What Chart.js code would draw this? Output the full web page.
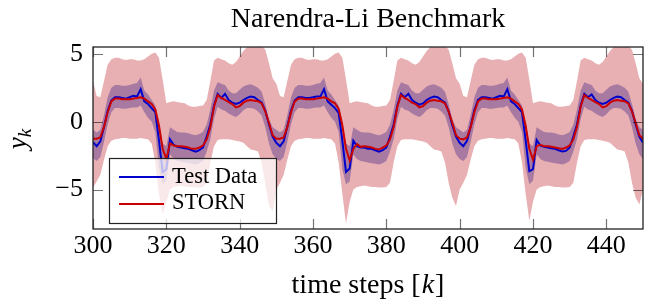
<!DOCTYPE html>
<html><head><meta charset="utf-8">
<script src="https://cdn.jsdelivr.net/npm/chart.js@4.4.0/dist/chart.umd.min.js"></script>
<style>html,body{margin:0;padding:0;background:#fff}canvas{display:block}</style>
</head><body>
<canvas id="c" width="654" height="304"></canvas>
<script>
// ---- data ----
const steps = Array.from({length: 151}, (_, i) => 300 + i);
const xTicks = [300, 320, 340, 360, 380, 400, 420, 440];
const yTicks = [-5, 0, 5];

const testData = [
 -1.5,-1.8,-1.45,-0.4,0.8,1.55,1.8,1.8,1.75,1.7,1.8,1.9,1.85,2.4,1.5,1.3,1.0,0.7,-1.4,-3.7,-3.5,-1.3,-1.7,-1.85,-1.9,-1.95,-2.0,-2.1,-2.2,-2.1,-1.9,-1.1,-0.2,1.2,2.05,1.75,2.05,1.6,1.4,1.3,1.4,1.6,1.75,1.85,1.8,1.6,1.4,0.8,-0.2,-1.1,
 -1.55,-1.8,-1.45,-0.35,0.8,1.55,1.8,1.8,1.75,1.75,1.8,1.85,1.85,2.4,1.5,1.25,1.0,0.65,-1.4,-3.7,-3.45,-1.4,-1.8,-1.9,-1.9,-2.0,-2.0,-2.1,-2.2,-2.1,-1.9,-1.1,-0.2,1.2,2.05,1.8,2.05,1.6,1.4,1.25,1.35,1.6,1.75,1.85,1.8,1.6,1.4,0.75,-0.25,-1.1,
 -1.55,-1.8,-1.4,-0.35,0.85,1.6,1.8,1.8,1.75,1.7,1.8,1.9,1.85,2.4,1.5,1.3,1.0,0.7,-1.4,-3.65,-3.5,-1.35,-1.75,-1.85,-1.9,-1.95,-2.0,-2.1,-2.2,-2.15,-1.9,-1.1,-0.2,1.2,2.05,1.8,2.0,1.6,1.4,1.3,1.4,1.6,1.75,1.85,1.8,1.6,1.4,0.8,-0.2,-1.1,
 -1.55];

const stornMean = [
 -1.25,-1.25,-1.15,-0.4,0.7,1.5,1.7,1.7,1.65,1.65,1.65,1.7,1.75,1.8,1.7,1.5,1.3,0.9,-0.3,-2.0,-2.75,-1.6,-1.75,-1.8,-1.8,-1.85,-1.9,-2.0,-2.0,-1.9,-1.75,-1.3,-0.4,1.1,1.95,1.75,1.6,1.45,1.3,1.05,1.15,1.4,1.55,1.6,1.55,1.5,1.35,0.75,-0.1,-1.0,
 -1.25,-1.25,-1.15,-0.4,0.7,1.5,1.7,1.7,1.65,1.65,1.65,1.7,1.75,1.8,1.7,1.5,1.35,0.95,-0.25,-2.0,-2.85,-2.0,-1.65,-1.85,-1.8,-1.85,-1.9,-2.0,-2.05,-1.9,-1.75,-1.3,-0.4,1.1,1.95,1.75,1.6,1.4,1.3,1.05,1.15,1.4,1.55,1.6,1.55,1.5,1.35,0.75,-0.1,-1.0,
 -1.25,-1.3,-1.15,-0.4,0.7,1.5,1.7,1.7,1.65,1.65,1.65,1.7,1.75,1.8,1.7,1.5,1.3,0.9,-0.3,-2.0,-2.8,-1.8,-1.7,-1.8,-1.8,-1.85,-1.9,-1.95,-2.0,-1.9,-1.75,-1.3,-0.4,1.1,1.95,1.75,1.6,1.45,1.3,1.05,1.15,1.4,1.55,1.6,1.55,1.5,1.35,0.75,-0.1,-1.0,
 -1.25];

const innerLow = [
 -2.7,-2.9,-2.6,-1.5,-0.2,0.7,1.0,1.0,0.95,0.95,1.0,1.05,1.05,1.2,0.7,0.3,0.0,-0.75,-3.4,-4.6,-4.35,-2.4,-2.75,-2.9,-2.95,-3.0,-3.05,-3.1,-3.15,-3.05,-2.9,-2.2,-1.3,0.2,1.1,0.9,0.8,0.6,0.45,0.35,0.55,0.85,1.0,1.0,0.95,0.75,0.45,-0.4,-1.6,-2.4,
 -2.75,-2.9,-2.6,-1.5,-0.2,0.7,1.0,1.0,0.95,0.95,1.0,1.05,1.05,1.2,0.7,0.3,0.0,-0.75,-3.5,-4.6,-4.4,-2.4,-2.75,-2.9,-2.95,-3.0,-3.05,-3.1,-3.15,-3.05,-2.9,-2.2,-1.3,0.2,1.1,0.9,0.8,0.6,0.45,0.35,0.55,0.85,1.0,1.0,0.95,0.75,0.45,-0.4,-1.6,-2.4,
 -2.75,-2.9,-2.6,-1.5,-0.2,0.7,1.0,1.0,0.95,0.95,1.0,1.05,1.05,1.2,0.7,0.3,0.0,-0.75,-3.4,-4.6,-4.35,-2.4,-2.75,-2.9,-2.95,-3.0,-3.05,-3.1,-3.15,-3.05,-2.9,-2.2,-1.3,0.2,1.1,0.9,0.8,0.6,0.45,0.35,0.55,0.85,1.0,1.0,0.95,0.75,0.45,-0.4,-1.6,-2.4,
 -2.75];

const innerHigh = [
 -0.6,-0.8,-0.6,0.5,1.8,2.5,2.7,2.7,2.65,2.65,2.7,2.8,2.85,3.25,2.3,2.0,1.6,1.2,-0.1,-1.6,-1.8,-0.4,-0.6,-0.75,-0.8,-0.8,-0.85,-0.95,-1.0,-0.9,-0.75,-0.2,0.9,2.3,2.9,2.8,2.7,2.3,2.1,2.1,2.35,2.6,2.7,2.75,2.65,2.5,2.2,1.3,0.2,-0.4,
 -0.6,-0.8,-0.6,0.5,1.8,2.5,2.7,2.7,2.65,2.65,2.7,2.8,2.85,3.25,2.3,2.0,1.6,1.2,-0.1,-1.6,-1.8,-0.4,-0.6,-0.75,-0.8,-0.8,-0.85,-0.95,-1.0,-0.9,-0.75,-0.2,0.9,2.3,2.9,2.8,2.7,2.3,2.1,2.1,2.35,2.6,2.7,2.75,2.65,2.5,2.2,1.3,0.2,-0.4,
 -0.6,-0.8,-0.6,0.5,1.8,2.5,2.7,2.7,2.65,2.65,2.7,2.8,2.85,3.25,2.3,2.0,1.6,1.2,-0.1,-1.6,-1.8,-0.4,-0.6,-0.75,-0.8,-0.8,-0.85,-0.95,-1.0,-0.9,-0.75,-0.2,0.9,2.3,2.9,2.8,2.7,2.3,2.1,2.1,2.35,2.6,2.7,2.75,2.65,2.5,2.2,1.3,0.2,-0.4,
 -0.6];

const outerLow = [
 -4.85,-4.4,-3.9,-2.8,-1.8,-1.4,-1.3,-1.25,-1.2,-1.2,-1.25,-1.25,-1.25,-1.2,-1.25,-1.3,-1.6,-3.0,-5.3,-6.8,-5.9,-5.0,-4.8,-4.75,-4.7,-4.75,-4.8,-4.8,-4.85,-4.85,-4.8,-4.5,-3.0,-1.8,-1.35,-1.3,-1.3,-1.3,-1.35,-1.4,-1.45,-1.55,-1.8,-2.05,-2.1,-2.2,-3.0,-4.6,-6.2,-6.6,
 -5.0,-4.5,-3.9,-2.8,-1.8,-1.4,-1.3,-1.25,-1.2,-1.2,-1.25,-1.25,-1.25,-1.2,-1.25,-1.3,-1.6,-3.0,-5.3,-7.5,-5.9,-5.0,-4.8,-4.75,-4.7,-4.75,-4.8,-4.8,-4.85,-4.85,-4.8,-4.5,-3.0,-1.8,-1.35,-1.3,-1.3,-1.3,-1.35,-1.4,-1.45,-1.55,-1.8,-2.05,-2.1,-2.2,-3.0,-4.5,-5.6,-6.2,
 -5.0,-4.5,-3.9,-2.8,-1.8,-1.4,-1.3,-1.25,-1.2,-1.2,-1.25,-1.25,-1.25,-1.2,-1.25,-1.3,-1.6,-3.0,-5.3,-7.3,-5.9,-5.0,-4.8,-4.75,-4.7,-4.75,-4.8,-4.8,-4.85,-4.85,-4.8,-4.5,-3.0,-1.8,-1.35,-1.3,-1.3,-1.3,-1.35,-1.4,-1.45,-1.55,-1.8,-2.05,-2.1,-2.2,-3.0,-4.5,-5.6,-6.1,
 -5.0];

const outerHigh = [
 3.0,1.9,1.8,3.0,4.2,4.6,4.7,4.7,4.6,4.55,4.6,4.6,4.5,4.5,4.6,4.8,5.0,5.1,4.7,3.1,1.35,1.45,1.5,1.45,1.4,1.35,1.2,1.1,1.1,1.15,1.2,1.6,3.0,4.5,4.7,4.6,4.5,4.3,4.2,4.4,4.8,5.2,5.5,5.7,5.7,5.7,5.6,5.3,4.3,3.2,
 2.8,1.9,1.8,3.0,4.2,4.6,4.7,4.7,4.6,4.55,4.6,4.6,4.5,4.5,4.6,4.8,5.0,5.1,4.7,3.1,1.35,1.45,1.5,1.45,1.4,1.35,1.2,1.1,1.1,1.15,1.2,1.6,3.0,4.5,4.7,4.6,4.5,4.3,4.2,4.4,4.8,5.2,5.5,5.7,5.7,5.7,5.6,5.3,4.3,3.2,
 2.8,1.9,1.8,3.0,4.2,4.6,4.7,4.7,4.6,4.55,4.6,4.6,4.5,4.5,4.6,4.8,5.0,5.1,4.7,3.1,1.35,1.45,1.5,1.45,1.4,1.35,1.2,1.1,1.1,1.15,1.2,1.6,3.0,4.5,4.7,4.6,4.5,4.3,4.2,4.4,4.8,5.2,5.5,5.7,5.7,5.7,5.6,5.3,4.3,3.2,
 2.8];

const seriesNames = ['Test Data', 'STORN'];
const titleText = 'Narendra-Li Benchmark';

// ---- styling ----
const FONT = '"Liberation Serif", "DejaVu Serif", serif';
const BLUE = '#0000cc', RED = '#cc0000', PINK = '#e8b0b3', PURPLE = '#a87aa2';

const decorPlugin = {
  id: 'decor',
  afterDatasetsDraw(chart) {
    const {ctx, chartArea: a, scales: {x, y}} = chart;
    ctx.save();
    // tick marks (inside, mirrored)
    ctx.strokeStyle = 'rgba(0,0,0,0.55)';
    ctx.lineWidth = 1.2;
    ctx.beginPath();
    xTicks.forEach(v => {
      const px = Math.round(x.getPixelForValue(v)) + 0.5;
      ctx.moveTo(px, a.bottom); ctx.lineTo(px, a.bottom - 10);
      ctx.moveTo(px, a.top); ctx.lineTo(px, a.top + 10);
    });
    yTicks.forEach(v => {
      const py = Math.round(y.getPixelForValue(v)) + 0.5;
      ctx.moveTo(a.left, py); ctx.lineTo(a.left + 10, py);
      ctx.moveTo(a.right, py); ctx.lineTo(a.right - 10, py);
    });
    ctx.stroke();
    // frame
    ctx.strokeStyle = '#222';
    ctx.lineWidth = 1.3;
    ctx.strokeRect(a.left, a.top, a.right - a.left, a.bottom - a.top);

    // legend
    const lx = 109.5, ly = 158.5, lw = 167, lh = 65;
    ctx.fillStyle = 'rgba(255,255,255,0.72)';
    ctx.fillRect(lx, ly, lw, lh);
    ctx.strokeStyle = '#222';
    ctx.lineWidth = 1.2;
    ctx.strokeRect(lx, ly, lw, lh);
    const rows = [[seriesNames[0], BLUE, 177, 182.5], [seriesNames[1], RED, 204, 209]];
    rows.forEach(([name, col, yy, base]) => {
      ctx.strokeStyle = col; ctx.lineWidth = 2.2;
      ctx.beginPath(); ctx.moveTo(119, yy); ctx.lineTo(164, yy); ctx.stroke();
      ctx.fillStyle = '#000';
      ctx.font = '22.5px ' + FONT;
      ctx.textAlign = 'left'; ctx.textBaseline = 'alphabetic';
      ctx.fillText(name, 172, base);
    });

    // title
    const cx = (a.left + a.right) / 2;
    ctx.fillStyle = '#000';
    ctx.font = '28px ' + FONT;
    ctx.textAlign = 'center'; ctx.textBaseline = 'alphabetic';
    ctx.fillText(titleText, cx, 27);

    // x axis label: time steps [k]
    const FS = 28;
    const p1 = 'time steps [', p2 = 'k', p3 = ']';
    ctx.font = FS + 'px ' + FONT;
    const w1 = ctx.measureText(p1).width, w3 = ctx.measureText(p3).width;
    ctx.font = 'italic ' + FS + 'px ' + FONT;
    const w2 = ctx.measureText(p2).width;
    let sx = cx - (w1 + w2 + w3 + 2) / 2;
    ctx.textAlign = 'left';
    ctx.font = FS + 'px ' + FONT; ctx.fillText(p1, sx, 293); sx += w1 + 1;
    ctx.font = 'italic ' + FS + 'px ' + FONT; ctx.fillText(p2, sx, 293); sx += w2 + 1;
    ctx.font = FS + 'px ' + FONT; ctx.fillText(p3, sx, 293);

    // y axis label: y_k
    ctx.translate(26, (a.top + a.bottom) / 2 + 1);
    ctx.rotate(-Math.PI / 2);
    ctx.font = 'italic 27px ' + FONT;
    const wy = ctx.measureText('y').width;
    ctx.font = 'italic 19px ' + FONT;
    const wk = ctx.measureText('k').width;
    let ty = -(wy + wk) / 2;
    ctx.font = 'italic 27px ' + FONT;
    ctx.fillText('y', ty, 0);
    ctx.font = 'italic 19px ' + FONT;
    ctx.fillText('k', ty + wy, 5);
    ctx.restore();
  }
};

const lineDs = (label, data, color, order) => ({
  label, data, borderColor: color, backgroundColor: color, borderWidth: 2,
  pointRadius: 0, fill: false, order, tension: 0
});
const bandDs = (label, data, fill, color, order) => ({
  label, data, borderWidth: 0, borderColor: 'rgba(0,0,0,0)', backgroundColor: color,
  pointRadius: 0, fill, order, tension: 0
});

new Chart(document.getElementById('c'), {
  type: 'line',
  data: {
    labels: steps,
    datasets: [
      bandDs('outerLow', outerLow, false, PINK, 6),
      bandDs('outerHigh', outerHigh, 0, PINK, 5),
      bandDs('innerLow', innerLow, false, PURPLE, 4),
      bandDs('innerHigh', innerHigh, 2, PURPLE, 3),
      lineDs(seriesNames[0], testData, BLUE, 2),
      lineDs(seriesNames[1], stornMean, RED, 1)
    ]
  },
  options: {
    responsive: false, animation: false, devicePixelRatio: 1,
    layout: { padding: { top: 47, right: 11, left: 0, bottom: 0 } },
    plugins: { legend: { display: false }, title: { display: false }, tooltip: { enabled: false } },
    scales: {
      x: {
        type: 'linear', min: 300, max: 450,
        grid: { display: false, drawTicks: false }, border: { display: false },
        ticks: { font: { family: FONT, size: 26 }, color: '#000', padding: 2, maxRotation: 0, autoSkip: false },
        afterBuildTicks: s => { s.ticks = xTicks.map(v => ({ value: v })); },
        afterFit: s => { s.height = 75; }
      },
      y: {
        min: -7.9, max: 5.5,
        grid: { display: false, drawTicks: false }, border: { display: false },
        ticks: { font: { family: FONT, size: 26 }, color: '#000', padding: 10,
                 callback: v => v < 0 ? '\u2212' + Math.abs(v) : String(v) },
        afterBuildTicks: s => { s.ticks = yTicks.map(v => ({ value: v })); },
        afterFit: s => { s.width = 93; }
      }
    }
  },
  plugins: [decorPlugin]
});
</script>
</body></html>
